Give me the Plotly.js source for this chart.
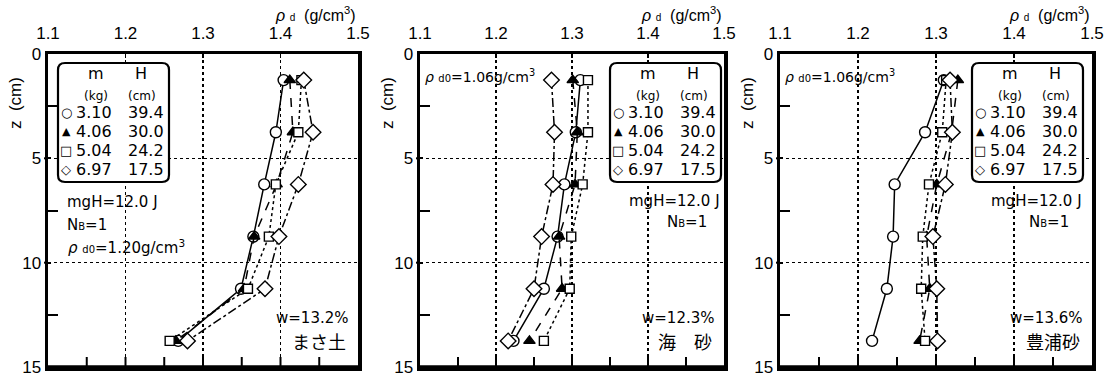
<!DOCTYPE html>
<html><head><meta charset="utf-8">
<script src="https://cdn.plot.ly/plotly-3.0.1.min.js"></script>
<style>html,body{margin:0;padding:0;background:#fff;overflow:hidden}#chart{width:1114px;height:376px}</style>
</head><body><div id="chart"></div>
<script>
// Depth of each measured layer (cm)
const depth = [1.25, 3.75, 6.25, 8.75, 11.25, 13.75];

// Panel 1: まさ土 (w = 13.2%)
const masa_310 = [1.404, 1.394, 1.379, 1.365, 1.349, 1.268];
const masa_406 = [1.412, 1.416, 1.395, 1.366, 1.353, 1.265];
const masa_504 = [1.427, 1.423, 1.394, 1.385, 1.358, 1.257];
const masa_697 = [1.430, 1.442, 1.423, 1.398, 1.380, 1.280];

// Panel 2: 海砂 (w = 12.3%)
const kai_310 = [1.311, 1.305, 1.290, 1.281, 1.263, 1.223];
const kai_406 = [1.301, 1.307, 1.304, 1.283, 1.287, 1.244];
const kai_504 = [1.321, 1.321, 1.314, 1.299, 1.297, 1.263];
const kai_697 = [1.273, 1.277, 1.275, 1.260, 1.250, 1.216];

// Panel 3: 豊浦砂 (w = 13.6%)
const toyo_310 = [1.310, 1.286, 1.247, 1.245, 1.237, 1.218];
const toyo_406 = [1.328, 1.320, 1.301, 1.288, 1.292, 1.279];
const toyo_504 = [1.313, 1.308, 1.291, 1.283, 1.281, 1.286];
const toyo_697 = [1.318, 1.321, 1.312, 1.296, 1.301, 1.302];

const xTicks = [1.1, 1.2, 1.3, 1.4, 1.5];
const xTickText = ['1.1', '1.2', '1.3', '1.4', '1.5'];
const xMinorTicks = [1.15, 1.2, 1.25, 1.3, 1.35, 1.4, 1.45];
const yTicks = [0, 5, 10, 15];
const yMinorTicks = [2.5, 7.5, 12.5];

const legendM = ['3.10', '4.06', '5.04', '6.97'];
const legendH = ['39.4', '30.0', '24.2', '17.5'];
const legendSym = ['○', '▲', '□', '◇'];

const soils = ['まさ土', '海　砂', '豊浦砂'];
const waterContent = ['w=13.2%', 'w=12.3%', 'w=13.6%'];
const rhoD0 = ['1.20', '1.06', '1.06'];

const panels = [
  [masa_310, masa_406, masa_504, masa_697],
  [kai_310, kai_406, kai_504, kai_697],
  [toyo_310, toyo_406, toyo_504, toyo_697]
];

const W = 1114, H = 376;
const PX = x => x / W, PY = y => 1 - y / H;
// panel frames in px
const frames = [[48, 358], [420, 724], [780, 1092]];
const frameTop = 54, frameBot = 367;

const styles = [
  {symbol: 'circle', size: 11, fill: '#fff', dash: 'solid'},
  {symbol: 'triangle-up', size: 10, fill: '#000', dash: 'dash'},
  {symbol: 'square', size: 9, fill: '#fff', dash: 'dot'},
  {symbol: 'diamond', size: 12, fill: '#fff', dash: 'dashdot'}
];

const traces = [];
panels.forEach((series, p) => {
  const xa = p === 0 ? 'x' : 'x' + (p + 1);
  const ya = p === 0 ? 'y' : 'y' + (p + 1);
  series.forEach((vals, s) => {
    const st = styles[s];
    traces.push({
      x: vals, y: depth, xaxis: xa, yaxis: ya, type: 'scatter', mode: 'lines+markers',
      showlegend: false, hoverinfo: 'skip',
      line: {color: '#000', width: 1.5, dash: st.dash},
      marker: {symbol: st.symbol, size: st.size, color: st.fill, line: {color: '#000', width: 1.4}}
    });
  });
});

const tickFont = {family: 'Liberation Sans, Arial, sans-serif', size: 17, color: '#000'};
const txtFont = {family: 'DejaVu Sans, sans-serif', size: 15, color: '#000'};

const layout = {
  width: W, height: H, margin: {l: 0, r: 0, t: 0, b: 0},
  paper_bgcolor: '#fff', plot_bgcolor: '#fff', showlegend: false,
  annotations: [], shapes: []
};

frames.forEach((f, p) => {
  const n = p + 1;
  const xk = 'xaxis' + (n === 1 ? '' : n), yk = 'yaxis' + (n === 1 ? '' : n);
  const yname = n === 1 ? 'y' : 'y' + n;
  const xname = n === 1 ? 'x' : 'x' + n;
  layout[xk] = {
    domain: [PX(f[0]), PX(f[1])], anchor: yname, side: 'top', range: [1.1, 1.5],
    tickvals: xTicks, ticktext: xTickText, ticks: 'inside', ticklen: 4, tickwidth: 1.5, tickcolor: '#000',
    showgrid: true, gridcolor: '#000', griddash: 'dot', gridwidth: 1.4,
    showline: true, linewidth: 3.5, linecolor: '#000', mirror: true, zeroline: false,
    tickfont: tickFont, ticklabelstandoff: 5, ticklabeloverflow: 'allow', fixedrange: true
  };
  layout[yk] = {
    domain: [PY(frameBot), PY(frameTop)], anchor: xname, range: [15, 0],
    tickvals: yTicks, ticks: 'inside', ticklen: 3, tickwidth: 2, tickcolor: '#000',
    minor: {tickvals: yMinorTicks, ticks: 'inside', ticklen: 10, tickwidth: 2, tickcolor: '#000', showgrid: false},
    showgrid: true, gridcolor: '#000', griddash: 'dot', gridwidth: 1.4,
    showline: true, linewidth: 3.5, linecolor: '#000', mirror: true, zeroline: false,
    tickfont: tickFont, ticklabeloverflow: 'allow', fixedrange: true
  };
  // frame (bottom edge made explicit)
  layout.shapes.push({type: 'line', xref: 'paper', yref: 'paper', x0: PX(f[0] - 1.5), x1: PX(f[1] + 1.5),
    y0: PY(frameBot), y1: PY(frameBot), line: {color: '#000', width: 3.5}, layer: 'above'});
  // bottom inside ticks (from the minor tick list)
  xMinorTicks.forEach(v => layout.shapes.push({
    type: 'line', xref: xname, yref: 'paper', x0: v, x1: v, y0: PY(frameBot), y1: PY(frameBot - 10),
    line: {color: '#000', width: 2}, layer: 'above'
  }));
  // short outward stubs at major depth ticks
  yTicks.slice(1, 3).forEach(v => layout.shapes.push({
    type: 'line', xref: 'paper', yref: yname, x0: PX(f[0] - 4), x1: PX(f[0]), y0: v, y1: v,
    line: {color: '#000', width: 2}, layer: 'above'
  }));

  // axis titles
  layout.annotations.push({
    xref: 'paper', yref: 'paper', x: PX(f[1]), y: PY(14), xanchor: 'right', yanchor: 'middle',
    text: '<i>ρ</i> <span style="font-size:10px">d</span>  (g/cm<sup>3</sup>)', showarrow: false,
    font: {family: 'Liberation Sans, Arial, sans-serif', size: 16, color: '#000'}
  });
  layout.annotations.push({
    xref: 'paper', yref: 'paper', x: PX(f[0] - 33), y: PY(103), xanchor: 'center', yanchor: 'middle',
    text: 'z  (cm)', textangle: -90, showarrow: false,
    font: {family: 'Liberation Sans, Arial, sans-serif', size: 17, color: '#000'}
  });

  // legend box
  const L = p === 0 ? f[0] + 10 : f[1] - (p === 1 ? 114 : 120);
  const T = 63, R = L + 111, B = 182, r = 7;
  const pt = (x, y) => PX(x).toFixed(5) + ',' + PY(y).toFixed(5);
  const path = 'M' + pt(L + r, T) + ' L' + pt(R - r, T) + ' Q' + pt(R, T) + ' ' + pt(R, T + r) +
    ' L' + pt(R, B - r) + ' Q' + pt(R, B) + ' ' + pt(R - r, B) +
    ' L' + pt(L + r, B) + ' Q' + pt(L, B) + ' ' + pt(L, B - r) +
    ' L' + pt(L, T + r) + ' Q' + pt(L, T) + ' ' + pt(L + r, T) + ' Z';
  layout.shapes.push({type: 'path', xref: 'paper', yref: 'paper', path: path,
    line: {color: '#000', width: 2.2}, fillcolor: '#fff', layer: 'above'});
  const ann = (x, y, text, xa, font) => layout.annotations.push({
    xref: 'paper', yref: 'paper', x: PX(x), y: PY(y), xanchor: xa, yanchor: 'middle',
    text: text, showarrow: false, font: font || txtFont
  });
  ann(L + 38, T + 11, 'm', 'center', {family: 'DejaVu Sans, sans-serif', size: 16, color: '#000'});
  ann(L + 83, T + 11, 'H', 'center', {family: 'DejaVu Sans, sans-serif', size: 16, color: '#000'});
  ann(L + 38, T + 33, '(kg)', 'center', {family: 'DejaVu Sans, sans-serif', size: 12, color: '#000'});
  ann(L + 84, T + 33, '(cm)', 'center', {family: 'DejaVu Sans, sans-serif', size: 12, color: '#000'});
  for (let i = 0; i < 4; i++) {
    const yy = T + 50 + i * 18.7;
    ann(L + 8, yy, legendSym[i], 'center', {family: 'DejaVu Sans, sans-serif', size: i === 1 ? 11 : 13, color: '#000'});
    ann(L + 36, yy, legendM[i], 'center', {family: 'DejaVu Sans, sans-serif', size: 16, color: '#000'});
    ann(L + 88, yy, legendH[i], 'center', {family: 'DejaVu Sans, sans-serif', size: 16, color: '#000'});
  }

  // annotations
  const rhoTxt = '<i>ρ</i> <span style="font-size:10px">d0</span>=' + rhoD0[p] + 'g/cm<sup>3</sup>';
  if (p === 0) {
    ann(65, 202, 'mgH=12.0 J', 'left');
    ann(65, 225, 'N<span style="font-size:10px">B</span>=1', 'left');
    ann(66, 247, rhoTxt, 'left');
  } else {
    ann(R + 1, 201, 'mgH=12.0 J', 'right');
    ann(R - 12, 222, 'N<span style="font-size:10px">B</span>=1', 'right');
    ann(f[0] + 3, 76, rhoTxt, 'left', {family: 'DejaVu Sans, sans-serif', size: 14, color: '#000'});
  }
  ann(f[1] - 7, 318, waterContent[p], 'right');
  ann(f[1] - 10, 341, soils[p], 'right', {family: 'Noto Sans CJK JP, sans-serif', size: 18, color: '#000'});
});

Plotly.newPlot('chart', traces, layout, {staticPlot: true, displayModeBar: false});
</script></body></html>
